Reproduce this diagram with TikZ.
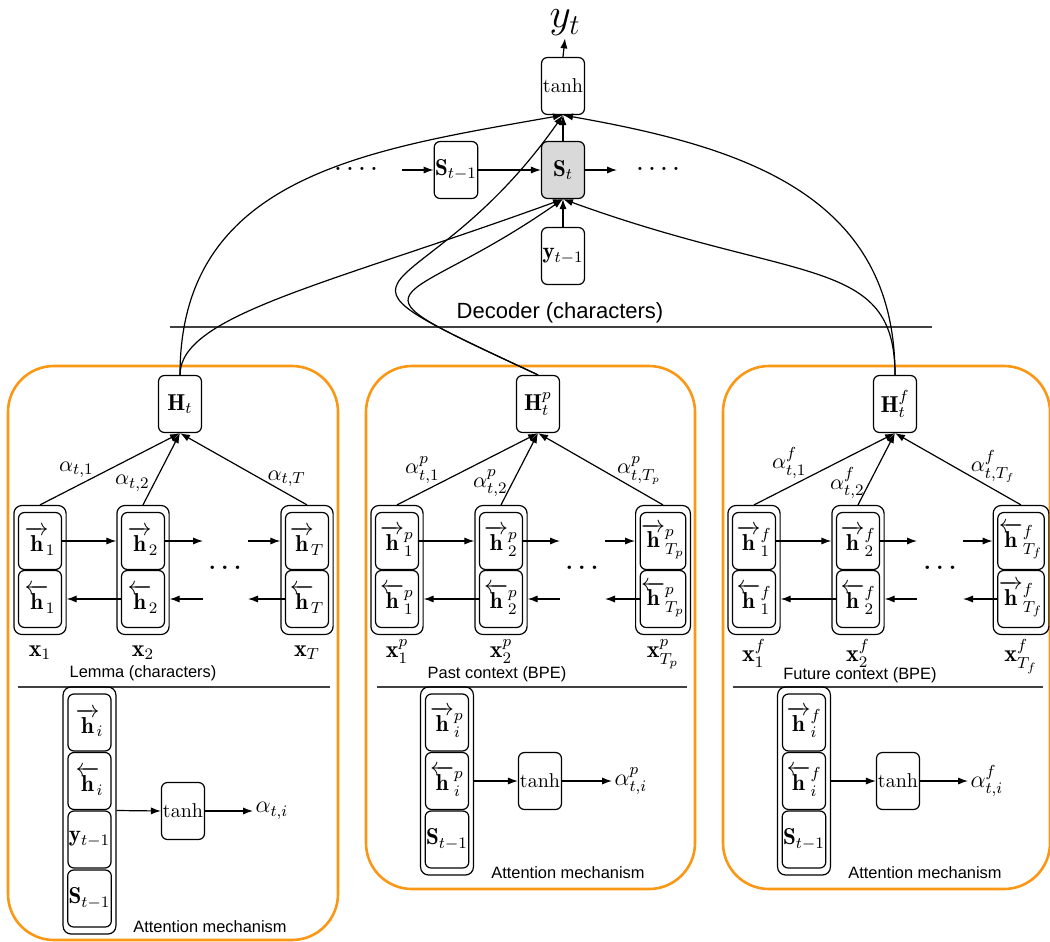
\documentclass[tikz,border=0pt]{standalone}
\usepackage{fontspec}
\setsansfont{Liberation Sans}
\usepackage{amsmath}
\usetikzlibrary{arrows.meta, positioning, fit}
\definecolor{panelorange}{RGB}{250,152,22}

\begin{document}
\begin{tikzpicture}[x=0.5pt, y=0.5pt,
        cell/.style={draw, rounded corners=3pt, minimum width=21.5pt, minimum height=28.5pt, inner sep=0.5pt, line width=0.6pt, font=\fontsize{11.5}{13}\selectfont},
        wrap/.style={draw, rounded corners=4pt, inner xsep=2pt, inner ysep=3.2pt, line width=0.6pt},
        panel/.style={draw=panelorange, line width=1.3pt, rounded corners=23pt},
        rule/.style={draw=black!75, line width=1pt},
        arrow/.style={-{Latex[length=5pt, width=3.6pt]}, line width=0.6pt},
        wt/.style={font=\fontsize{11}{13}\selectfont, inner sep=1pt},
        lbl/.style={font=\sffamily\fontsize{8.2}{10}\selectfont},
        decdots/.style={font=\bfseries},
        encdots/.style={font=\large\bfseries}
    ]
        \useasboundingbox (0,0) rectangle (1050,-942);

        % --- Panels (orange frames) ---
        \draw[panel] (8,-366) rectangle (338,-940);
        \draw[panel] (366,-366) rectangle (695,-889);
        \draw[panel] (723,-366) rectangle (1050,-889);

        % --- Decoder ---
        \node[font=\huge, inner sep=1pt] (yt) at (565,-23) {$y_t$};
        \node[cell, font=\normalsize] (tanhd) at (563,-86) {$\tanh$};
        \node[cell] (Sprev) at (456,-170) {$\mathbf{S}_{t-1}$};
        \node[cell, fill=gray!30] (St) at (563,-170) {$\mathbf{S}_t$};
        \node[cell] (yprev) at (563,-256) {$\mathbf{y}_{t-1}$};
        \node[decdots] (dotsl) at (356,-169) {.\hspace{2.8pt}.\hspace{2.8pt}.\hspace{2.8pt}.};
        \node[decdots] (dotsr) at (658,-169) {.\hspace{2.8pt}.\hspace{2.8pt}.\hspace{2.8pt}.};
        \coordinate (inl) at (402,-170);
        \coordinate (outr) at (617,-170);
        \node[font=\sffamily\fontsize{11}{13}\selectfont] (declbl) at (560,-313) {Decoder (characters)};
        \draw[rule] (170,-327) -- (932,-327);

        \draw[arrow] (tanhd.north) -- (yt.south);
        \draw[arrow] (inl) -- (Sprev.west);
        \draw[arrow] (Sprev.east) -- (St.west);
        \draw[arrow] (St.east) -- (outr);
        \draw[arrow] (St.north) -- (tanhd.south);
        \draw[arrow] (yprev.north) -- (St.south);

        % --- Lemma encoder (characters) ---
        \node[cell] (Ht) at (180,-404) {$\mathbf{H}_t$};
        \node[cell] (h1f) at (40,-541) {$\overrightarrow{\mathbf{h}}_{\!1}$};
        \node[cell] (h1b) at (40,-599) {$\overleftarrow{\mathbf{h}}_{\!1}$};
        \node[wrap, fit=(h1f)(h1b)] (c1) {};
        \node[cell] (h2f) at (143,-541) {$\overrightarrow{\mathbf{h}}_{\!2}$};
        \node[cell] (h2b) at (143,-599) {$\overleftarrow{\mathbf{h}}_{\!2}$};
        \node[wrap, fit=(h2f)(h2b)] (c2) {};
        \node[cell] (hTf) at (307,-541) {$\overrightarrow{\mathbf{h}}_{\!T}$};
        \node[cell] (hTb) at (307,-599) {$\overleftarrow{\mathbf{h}}_{\!T}$};
        \node[wrap, fit=(hTf)(hTb)] (cT) {};
        \node[encdots] (dots1) at (225,-568) {.\hspace{2.6pt}.\hspace{2.6pt}.};
        \coordinate (fa1) at (203,-541);
        \coordinate (fb1) at (248,-541);
        \coordinate (ba1) at (203,-599);
        \coordinate (bb1) at (248,-599);

        \draw[arrow] (h1f.east) -- (h1f.east -| c2.west);
        \draw[arrow] (h2f.east) -- (fa1);
        \draw[arrow] (fb1) -- (hTf.west -| cT.west);
        \draw[arrow] (h2b.west) -- (h2b.west -| c1.east);
        \draw[arrow] (ba1) -- (h2b.east -| c2.east);
        \draw[arrow] (hTb.west) -- (bb1);

        \draw[arrow] (c1.north) -- (Ht.south) node[wt, pos=0.26, above=3pt] {$\alpha_{t,1}$};
        \draw[arrow] (c2.north) -- (Ht.south) node[wt, pos=0.3, left=1pt] {$\alpha_{t,2}$};
        \draw[arrow] (cT.north) -- (Ht.south) node[wt, pos=0.16, above=2pt] {$\alpha_{t,T}$};

        \node[wt, font=\large, below=4pt of c1] (x1) {$\mathbf{x}_1$};
        \node[wt, font=\large, below=4pt of c2] (x2) {$\mathbf{x}_2$};
        \node[wt, font=\large, below=4pt of cT] (xT) {$\mathbf{x}_T$};
        \node[lbl] (lemlbl) at (143,-673) {Lemma (characters)};
        \draw[rule] (18,-687) -- (330,-687);

        % --- Lemma attention ---
        \node[cell] (a1f) at (89.5,-722.5) {$\overrightarrow{\mathbf{h}}_{\!i}$};
        \node[cell] (a1b) at (89.5,-781) {$\overleftarrow{\mathbf{h}}_{\!i}$};
        \node[cell] (a1y) at (89.5,-839.5) {$\mathbf{y}_{t-1}$};
        \node[cell] (a1s) at (89.5,-898.5) {$\mathbf{S}_{t-1}$};
        \node[wrap, fit=(a1f)(a1s)] (att1) {};
        \node[cell, font=\normalsize] (tanh1) at (183,-811) {$\tanh$};
        \coordinate (o1) at (253,-811);
        \draw[arrow] (att1.east) -- (tanh1.west);
        \draw[arrow] (tanh1.east) -- (o1) node[wt, right, font=\large] {$\alpha_{t,i}$};
        \node[lbl] (att1lbl) at (210,-927) {Attention mechanism};

        % --- Past context encoder (BPE) ---
        \node[cell] (Hp) at (538,-404) {$\mathbf{H}^p_t$};
        \node[cell] (p1f) at (397,-541) {$\overrightarrow{\mathbf{h}}^p_1$};
        \node[cell] (p1b) at (397,-599) {$\overleftarrow{\mathbf{h}}^p_1$};
        \node[wrap, fit=(p1f)(p1b)] (pc1) {};
        \node[cell] (p2f) at (501,-541) {$\overrightarrow{\mathbf{h}}^p_2$};
        \node[cell] (p2b) at (501,-599) {$\overleftarrow{\mathbf{h}}^p_2$};
        \node[wrap, fit=(p2f)(p2b)] (pc2) {};
        \node[cell] (pTf) at (663,-541) {$\overrightarrow{\mathbf{h}}^p_{T_p}$};
        \node[cell] (pTb) at (663,-599) {$\overleftarrow{\mathbf{h}}^p_{T_p}$};
        \node[wrap, fit=(pTf)(pTb)] (pcT) {};
        \node[encdots] (dots2) at (582,-568) {.\hspace{2.6pt}.\hspace{2.6pt}.};
        \coordinate (fa2) at (560,-541);
        \coordinate (fb2) at (605,-541);
        \coordinate (ba2) at (560,-599);
        \coordinate (bb2) at (605,-599);

        \draw[arrow] (p1f.east) -- (p1f.east -| pc2.west);
        \draw[arrow] (p2f.east) -- (fa2);
        \draw[arrow] (fb2) -- (pTf.west -| pcT.west);
        \draw[arrow] (p2b.west) -- (p2b.west -| pc1.east);
        \draw[arrow] (ba2) -- (p2b.east -| pc2.east);
        \draw[arrow] (pTb.west) -- (bb2);

        \draw[arrow] (pc1.north) -- (Hp.south) node[wt, pos=0.18, above=3pt] {$\alpha^p_{t,1}$};
        \draw[arrow] (pc2.north) -- (Hp.south) node[wt, pos=0.3, left=1pt] {$\alpha^p_{t,2}$};
        \draw[arrow] (pcT.north) -- (Hp.south) node[wt, pos=0.19, above=2pt] {$\alpha^p_{t,T_p}$};

        \node[wt, font=\large, below=1pt of pc1] (xp1) {$\mathbf{x}^p_1$};
        \node[wt, font=\large, below=1pt of pc2] (xp2) {$\mathbf{x}^p_2$};
        \node[wt, font=\large, below=1pt of pcT] (xpT) {$\mathbf{x}^p_{T_p}$};
        \node[lbl] (pastlbl) at (497,-674) {Past context (BPE)};
        \draw[rule] (377,-687) -- (687,-687);

        % --- Past context attention ---
        \node[cell] (a2f) at (447,-722.5) {$\overrightarrow{\mathbf{h}}^p_i$};
        \node[cell] (a2b) at (447,-781) {$\overleftarrow{\mathbf{h}}^p_i$};
        \node[cell] (a2s) at (447,-839.5) {$\mathbf{S}_{t-1}$};
        \node[wrap, fit=(a2f)(a2s)] (att2) {};
        \node[cell, font=\normalsize] (tanh2) at (540,-781) {$\tanh$};
        \coordinate (o2) at (612,-781);
        \draw[arrow] (att2.east) -- (tanh2.west);
        \draw[arrow] (tanh2.east) -- (o2) node[wt, right, font=\large] {$\alpha^p_{t,i}$};
        \node[lbl] (att2lbl) at (568,-873) {Attention mechanism};

        % --- Future context encoder (BPE) ---
        \node[cell] (Hf) at (895,-404) {$\mathbf{H}^f_t$};
        \node[cell] (q1f) at (754,-541) {$\overrightarrow{\mathbf{h}}^f_1$};
        \node[cell] (q1b) at (754,-599) {$\overleftarrow{\mathbf{h}}^f_1$};
        \node[wrap, fit=(q1f)(q1b)] (fc1) {};
        \node[cell] (q2f) at (858,-541) {$\overrightarrow{\mathbf{h}}^f_2$};
        \node[cell] (q2b) at (858,-599) {$\overleftarrow{\mathbf{h}}^f_2$};
        \node[wrap, fit=(q2f)(q2b)] (fc2) {};
        \node[cell] (qTf) at (1021,-541) {$\overleftarrow{\mathbf{h}}^f_{T_f}$};
        \node[cell] (qTb) at (1021,-599) {$\overrightarrow{\mathbf{h}}^f_{T_f}$};
        \node[wrap, fit=(qTf)(qTb)] (fcT) {};
        \node[encdots] (dots3) at (940,-568) {.\hspace{2.6pt}.\hspace{2.6pt}.};
        \coordinate (fa3) at (917,-541);
        \coordinate (fb3) at (963,-541);
        \coordinate (ba3) at (917,-599);
        \coordinate (bb3) at (963,-599);

        \draw[arrow] (q1f.east) -- (q1f.east -| fc2.west);
        \draw[arrow] (q2f.east) -- (fa3);
        \draw[arrow] (fb3) -- (qTf.west -| fcT.west);
        \draw[arrow] (q2b.west) -- (q2b.west -| fc1.east);
        \draw[arrow] (ba3) -- (q2b.east -| fc2.east);
        \draw[arrow] (qTb.west) -- (bb3);

        \draw[arrow] (fc1.north) -- (Hf.south) node[wt, pos=0.25, above=3pt] {$\alpha^f_{t,1}$};
        \draw[arrow] (fc2.north) -- (Hf.south) node[wt, pos=0.3, left=1pt] {$\alpha^f_{t,2}$};
        \draw[arrow] (fcT.north) -- (Hf.south) node[wt, pos=0.22, above=2pt] {$\alpha^f_{t,T_f}$};

        \node[wt, font=\large, below=1pt of fc1] (xf1) {$\mathbf{x}^f_1$};
        \node[wt, font=\large, below=1pt of fc2] (xf2) {$\mathbf{x}^f_2$};
        \node[wt, font=\large, below=1pt of fcT] (xfT) {$\mathbf{x}^f_{T_f}$};
        \node[lbl] (futlbl) at (860,-675) {Future context (BPE)};
        \draw[rule] (733,-687) -- (1043,-687);

        % --- Future context attention ---
        \node[cell] (a3f) at (804,-722.5) {$\overrightarrow{\mathbf{h}}^f_i$};
        \node[cell] (a3b) at (804,-781) {$\overleftarrow{\mathbf{h}}^f_i$};
        \node[cell] (a3s) at (804,-839.5) {$\mathbf{S}_{t-1}$};
        \node[wrap, fit=(a3f)(a3s)] (att3) {};
        \node[cell, font=\normalsize] (tanh3) at (898,-781) {$\tanh$};
        \coordinate (o3) at (968,-781);
        \draw[arrow] (att3.east) -- (tanh3.west);
        \draw[arrow] (tanh3.east) -- (o3) node[wt, right, font=\large] {$\alpha^f_{t,i}$};
        \node[lbl] (att3lbl) at (925,-873) {Attention mechanism};

        % --- Encoder summaries -> decoder ---
        \draw[arrow] (Ht.north) to[out=90, in=190, looseness=1.1] (tanhd.south);
        \draw[arrow] (Ht.north) to[out=90, in=200, out distance=30pt, in distance=125pt] (St.south);
        \draw[arrow] (Hp.north) to[out=155, in=235, out distance=140pt, in distance=125pt] (tanhd.south);
        \draw[arrow] (Hp.north) to[out=155, in=215, out distance=115pt, in distance=100pt] (St.south);
        \draw[arrow] (Hf.north) to[out=90, in=-10, looseness=1.1] (tanhd.south);
        \draw[arrow] (Hf.north) to[out=90, in=-20, out distance=60pt, in distance=125pt] (St.south);

    \end{tikzpicture}
\end{document}
